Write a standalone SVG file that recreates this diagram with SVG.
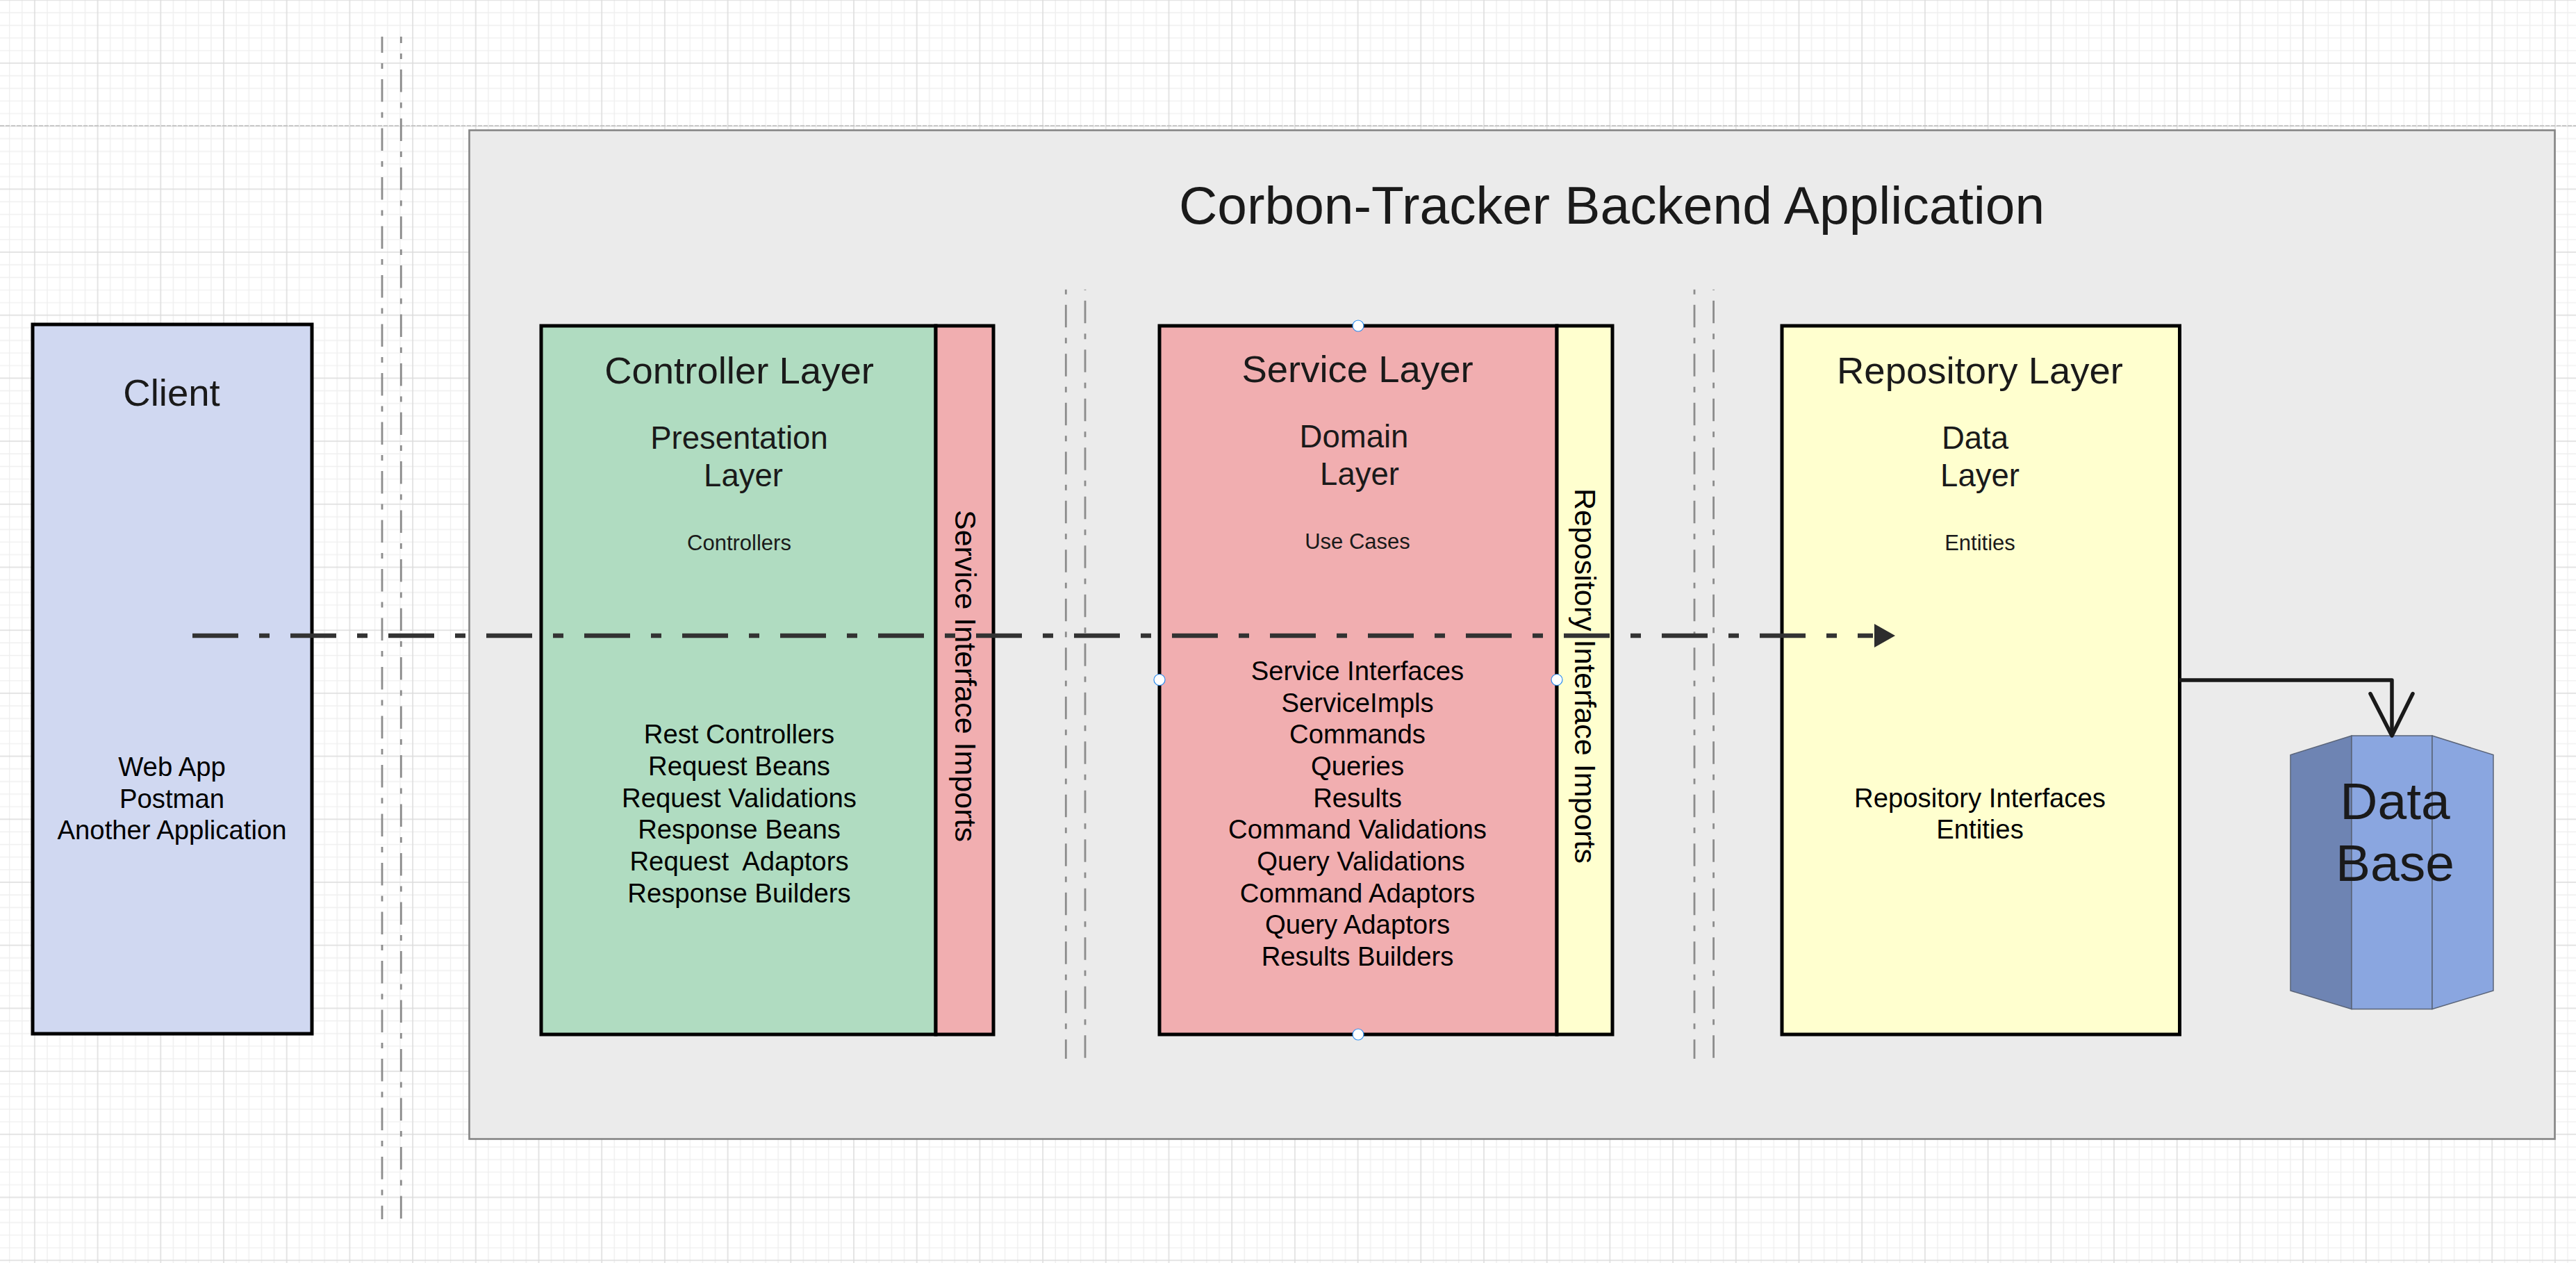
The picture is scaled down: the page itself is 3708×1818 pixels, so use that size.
<svg xmlns="http://www.w3.org/2000/svg" width="3708" height="1818" viewBox="0 0 3708 1818">
<style>
text{font-family:"Liberation Sans",Arial,sans-serif;text-anchor:middle;fill:#1a1a1a}
.box{stroke:#000;stroke-width:5;stroke-linejoin:miter}
.h1{font-size:54.5px}
.h2{font-size:45.5px}
.sm{font-size:31px}
.body{font-size:38.3px;fill:#000;white-space:pre}
.side{font-size:43px;fill:#000}
.sep{stroke:#8c8c8c;stroke-width:2.8;fill:none}
.a{stroke-dasharray:32.5 15 8 15}
.handle{fill:#fff;stroke:#2a8cf0;stroke-width:1.2}
.db{stroke:#5a6478;stroke-width:1.5}
</style>
<defs>
<pattern id="grid" patternUnits="userSpaceOnUse" x="40.9" y="-8.8" width="90.7" height="90.7">
<path d="M27.14 0V90.7M45.28 0V90.7M63.42 0V90.7M81.56 0V90.7M0 27.14H90.7M0 45.28H90.7M0 63.42H90.7M0 81.56H90.7" stroke="#efefef" stroke-width="1.4" fill="none"/>
<path d="M9 0V90.7M0 9H90.7" stroke="#dcdcdc" stroke-width="1.5" fill="none"/>
</pattern>
</defs>
<rect width="3708" height="1818" fill="#fff"/>
<rect id="background-grid" width="3708" height="1818" fill="url(#grid)"/>
<line x1="0" y1="181" x2="3708" y2="181" stroke="#bdbdbd" stroke-width="1.6" stroke-dasharray="6 2"/>
<g id="application">
<rect x="675.5" y="187.5" width="3002" height="1452" fill="#ebebeb" stroke="#858585" stroke-width="2.6"/>
<text x="2320" y="322" font-size="76.7">Corbon-Tracker Backend Application</text>
</g>
<g id="separators">
<line class="sep a" x1="550" y1="52.7" x2="550" y2="1755" stroke-dashoffset="9.2"/>
<line class="sep a" x1="577.3" y1="52.7" x2="577.3" y2="1755" stroke-dashoffset="23.2"/>
<line class="sep a" x1="1534.3" y1="416.7" x2="1534.3" y2="1524" stroke-dashoffset="48.5"/>
<line class="sep a" x1="1562" y1="416.7" x2="1562" y2="1524" stroke-dashoffset="54.5"/>
<line class="sep a" x1="2439" y1="416.7" x2="2439" y2="1524" stroke-dashoffset="48.5"/>
<line class="sep a" x1="2466.6" y1="416.7" x2="2466.6" y2="1524" stroke-dashoffset="54.5"/>
</g>
<g id="client">
<rect class="box" x="47" y="467" width="402" height="1021" fill="#d0d8f1"/>
<text class="h1" x="247" y="584">Client</text>
<text class="body" x="247.5" y="1117">Web App</text>
<text class="body" x="247.5" y="1163">Postman</text>
<text class="body" x="247.5" y="1208">Another Application</text>
</g>
<g id="controller-layer">
<rect class="box" x="779" y="469" width="568" height="1020" fill="#b0dcc1"/>
<text class="h1" x="1064" y="552">Controller Layer</text>
<text class="h2" x="1064" y="646">Presentation</text>
<text class="h2" x="1070" y="700">Layer</text>
<text class="sm" x="1064" y="792">Controllers</text>
<text class="body" x="1064" y="1070">Rest Controllers</text>
<text class="body" x="1064" y="1116">Request Beans</text>
<text class="body" x="1064" y="1162">Request Validations</text>
<text class="body" x="1064" y="1207">Response Beans</text>
<text class="body" x="1064" y="1253">Request  Adaptors</text>
<text class="body" x="1064" y="1299">Response Builders</text>
</g>
<g id="service-interface-imports">
<rect class="box" x="1347" y="469" width="83" height="1020" fill="#f1aeb0"/>
<text class="side" transform="translate(1375 973) rotate(90)">Service Interface Imports</text>
</g>
<g id="service-layer">
<rect class="box" x="1669" y="469" width="572" height="1020" fill="#f1aeb0"/>
<text class="h1" x="1954" y="550">Service Layer</text>
<text class="h2" x="1949" y="644">Domain</text>
<text class="h2" x="1957" y="698">Layer</text>
<text class="sm" x="1954" y="790">Use Cases</text>
<text class="body" x="1954" y="979">Service Interfaces</text>
<text class="body" x="1954" y="1025">ServiceImpls</text>
<text class="body" x="1954" y="1070">Commands</text>
<text class="body" x="1954" y="1116">Queries</text>
<text class="body" x="1954" y="1162">Results</text>
<text class="body" x="1954" y="1207">Command Validations</text>
<text class="body" x="1959" y="1253">Query Validations</text>
<text class="body" x="1954" y="1299">Command Adaptors</text>
<text class="body" x="1954" y="1344">Query Adaptors</text>
<text class="body" x="1954" y="1390">Results Builders</text>
</g>
<g id="repository-interface-imports">
<rect class="box" x="2241" y="469" width="80" height="1020" fill="#ffffcf"/>
<text class="side" transform="translate(2267 973) rotate(90)">Repository Interface Imports</text>
</g>
<g id="selection-handles">
<ellipse class="handle" cx="1955" cy="469" rx="8" ry="8"/>
<ellipse class="handle" cx="1669" cy="978.5" rx="8" ry="8"/>
<ellipse class="handle" cx="2241" cy="978.5" rx="8" ry="8"/>
<ellipse class="handle" cx="1955" cy="1489" rx="8" ry="8"/>
</g>
<g id="repository-layer">
<rect class="box" x="2565" y="469" width="572.5" height="1020" fill="#ffffcf"/>
<text class="h1" x="2850" y="552">Repository Layer</text>
<text class="h2" x="2843" y="646">Data</text>
<text class="h2" x="2850" y="700">Layer</text>
<text class="sm" x="2850" y="792">Entities</text>
<text class="body" x="2850" y="1162">Repository Interfaces</text>
<text class="body" x="2850" y="1207">Entities</text>
</g>
<g id="database">
<path class="db" d="M3297 1086.6L3385 1059V1452.5L3297 1426Z" fill="#6e84b3"/>
<path class="db" d="M3385 1059H3501V1452.5H3385Z" fill="#8aa6e0"/>
<path class="db" d="M3501 1059L3589 1086.6V1426L3501 1452.5Z" fill="#8aa6e0"/>
<text x="3447.5" y="1178.5" font-size="75">Data</text>
<text x="3447.5" y="1267.5" font-size="75">Base</text>
</g>
<g id="connectors">
<line x1="277" y1="915" x2="2696" y2="915" stroke="#333" stroke-width="6.5" stroke-dasharray="66 30 15 30"/>
<path d="M2698 898L2728 915L2698 932Z" fill="#2d2d2d"/>
<path d="M3137 979H3443V1059" fill="none" stroke="#1a1a1a" stroke-width="5.5" stroke-linejoin="round"/>
<path d="M3412 998.5L3443 1059L3473 998.5" fill="none" stroke="#1a1a1a" stroke-width="5.5" stroke-linecap="round" stroke-linejoin="round"/>
</g>
</svg>
